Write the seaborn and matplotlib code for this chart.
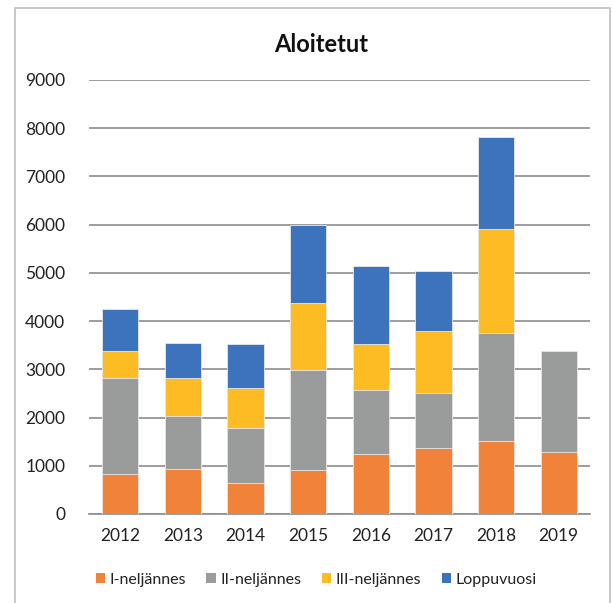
import matplotlib
matplotlib.use("Agg")
import matplotlib.pyplot as plt
import seaborn as sns
import pandas as pd
import numpy as np
from matplotlib.patches import Patch, Rectangle

years = ["2012", "2013", "2014", "2015", "2016", "2017", "2018", "2019"]
series = ["I-neljännes", "II-neljännes", "III-neljännes", "Loppuvuosi"]
q1 = [820, 930, 640, 915, 1235, 1360, 1520, 1290]
q2 = [1990, 1100, 1140, 2065, 1335, 1150, 2230, 2085]
q3 = [570, 780, 840, 1390, 965, 1275, 2170, 0]
rest = [870, 730, 900, 1620, 1605, 1255, 1900, 0]
colors = ["#F0823A", "#9A9C9C", "#FDBC24", "#3D72BC"]

sns.set_theme(style="white")
plt.rcParams["font.family"] = ["Lato", "DejaVu Sans"]

fig = plt.figure(figsize=(6.13, 6.03), dpi=100)
ax = fig.add_axes([89/613, 1-514/603, (590-89)/613, (514-80)/603])

vals = np.array([q1, q2, q3, rest])
cum = np.cumsum(vals, axis=0)
for i in range(3, -1, -1):
    df = pd.DataFrame({"year": years, "value": cum[i]})
    sns.barplot(data=df, x="year", y="value", color=colors[i], width=0.58,
                saturation=1, ax=ax, zorder=3, edgecolor="#E8E8E8",
                linewidth=0.6)

ax.set_ylim(0, 9000)
ax.set_yticks(range(0, 9001, 1000))
ax.grid(axis="y", color="#8C8C8C", linewidth=1.2, zorder=0)
for s in ["top", "right", "left"]:
    ax.spines[s].set_visible(False)
ax.spines["bottom"].set_color("#8C8C8C")
ax.spines["bottom"].set_linewidth(1.2)
ax.set_xlabel("")
ax.set_ylabel("")
ax.tick_params(axis="both", length=0, labelsize=12.5, labelcolor="#222222")
ax.tick_params(axis="y", pad=17)
ax.tick_params(axis="x", pad=10)

fig.text(321/613, 1-45/603, "Aloitetut", ha="center", va="center",
         fontsize=17, fontweight="bold", color="#111111")

handles = [Patch(facecolor=c, edgecolor="none") for c in colors]
fig.legend(handles, series, loc="center", bbox_to_anchor=(316/613, 1-580/603),
           ncol=4, frameon=False, fontsize=11.5, handlelength=0.6,
           handleheight=0.6, handletextpad=0.25, columnspacing=1.3,
           labelcolor="#222222")

fig.patches.append(Rectangle((14.5/613, -0.01), (610-14.5)/613, 1-8/603+0.01,
                             transform=fig.transFigure, fill=False,
                             edgecolor="#BFBFBF", linewidth=1.2))

fig.savefig("out.png", dpi=100)
